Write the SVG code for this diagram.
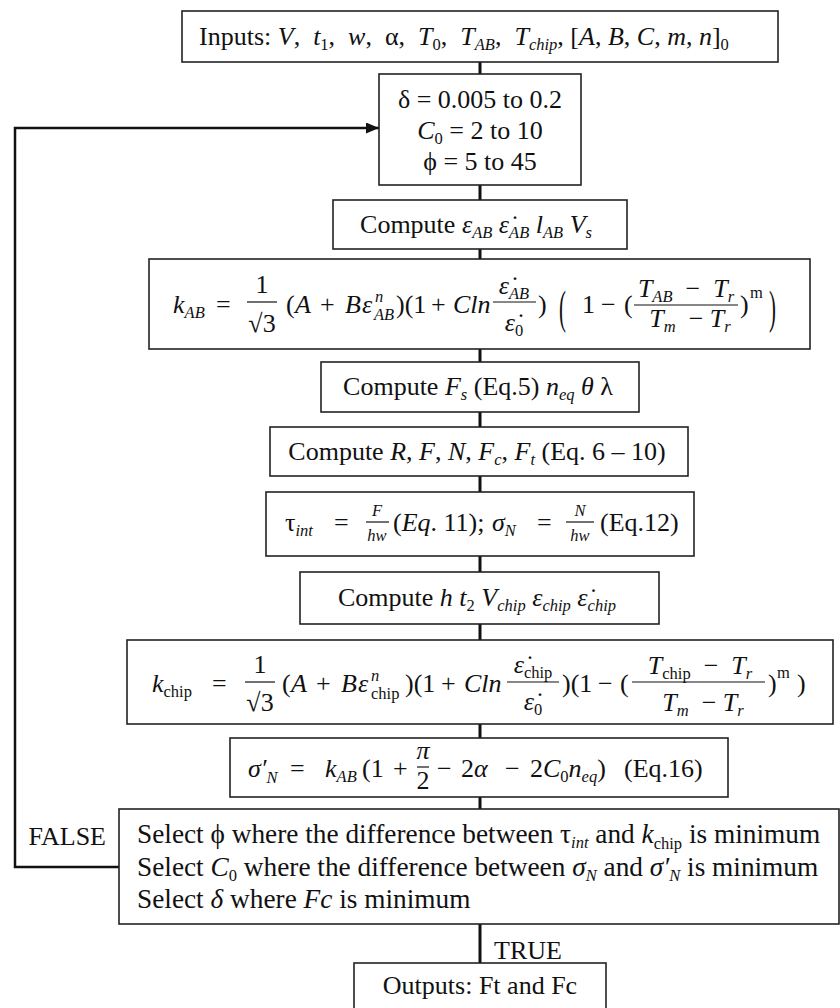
<svg xmlns="http://www.w3.org/2000/svg" width="840" height="1008" viewBox="0 0 840 1008">
<style>
.box{fill:#fff;stroke:#222;stroke-width:1.6}
.t{font-family:"Liberation Serif","Times New Roman","DejaVu Serif",serif;font-size:26px;fill:#111}
.s{font-size:27.3px}
.i{font-style:italic}
.sub{font-size:16.5px}
.m{text-anchor:middle}
.bar{stroke:#111;stroke-width:1.2}
.conn{stroke:#111;stroke-width:3;fill:none}
.loop{stroke:#111;stroke-width:2.5;fill:none}
</style>
<defs>
<marker id="ah" markerWidth="13" markerHeight="11" refX="13" refY="5.5" orient="auto" markerUnits="userSpaceOnUse"><path d="M0,0 L13,5.5 L0,11 z" fill="#111"/></marker>
</defs>
<rect width="840" height="1008" fill="#fff"/>

<g id="connectors">
<line class="conn" x1="480" y1="62" x2="480" y2="74"/>
<line class="conn" x1="480" y1="185" x2="480" y2="200"/>
<line class="conn" x1="480" y1="249" x2="480" y2="259"/>
<line class="conn" x1="480" y1="349" x2="480" y2="362"/>
<line class="conn" x1="480" y1="412" x2="480" y2="427"/>
<line class="conn" x1="480" y1="476" x2="480" y2="492"/>
<line class="conn" x1="480" y1="556" x2="480" y2="572"/>
<line class="conn" x1="480" y1="624" x2="480" y2="640"/>
<line class="conn" x1="480" y1="724" x2="480" y2="738"/>
<line class="conn" x1="480" y1="797" x2="480" y2="809"/>
<line class="conn" x1="480" y1="924" x2="480" y2="963"/>
<path class="loop" d="M119,867 H15 V128 H379" marker-end="url(#ah)"/>
<text class="t" x="106" y="845" text-anchor="end">FALSE</text>
<text class="t" x="494" y="959">TRUE</text>
</g>

<g id="inputs">
<rect class="box" x="182" y="11" width="596" height="51"/>
<text class="t" x="199" y="45" xml:space="preserve">Inputs: <tspan class="i">V</tspan>,  <tspan class="i">t</tspan><tspan class="sub" dy="5">1</tspan><tspan dy="-5">,  </tspan><tspan class="i">w</tspan>,  α,  <tspan class="i">T</tspan><tspan class="sub" dy="5">0</tspan><tspan dy="-5">,  </tspan><tspan class="i">T</tspan><tspan class="sub i" dy="5">AB</tspan><tspan dy="-5">,  </tspan><tspan class="i">T</tspan><tspan class="sub i" dy="5">chip</tspan><tspan dy="-5">, [</tspan><tspan class="i">A</tspan>, <tspan class="i">B</tspan>, <tspan class="i">C</tspan>, <tspan class="i">m</tspan>, <tspan class="i">n</tspan>]<tspan class="sub" dy="5">0</tspan></text>
</g>

<g id="ranges">
<rect class="box" x="379" y="74" width="202" height="111"/>
<text class="t m" x="480" y="108">δ = 0.005 to 0.2</text>
<text class="t m" x="480" y="139"><tspan class="i">C</tspan><tspan class="sub" dy="5">0</tspan><tspan dy="-5"> = 2 to 10</tspan></text>
<text class="t m" x="480" y="170">ϕ = 5 to 45</text>
</g>

<g id="compute-ab">
<rect class="box" x="333" y="200" width="294" height="49"/>
<text class="t m" x="476" y="233" xml:space="preserve">Compute <tspan class="i">ε</tspan><tspan class="sub i" dy="5">AB</tspan><tspan dy="-5"> </tspan><tspan class="i">ε&#x307;</tspan><tspan class="sub i" dy="5">AB</tspan><tspan dy="-5"> </tspan><tspan class="i">l</tspan><tspan class="sub i" dy="5">AB</tspan><tspan dy="-5"> </tspan><tspan class="i">V</tspan><tspan class="sub i" dy="5">s</tspan></text>
</g>

<g id="k-ab">
<rect class="box" x="149" y="259" width="661" height="90"/>
<text class="t i" x="173" y="313">k<tspan class="sub" dy="5">AB</tspan></text>
<text class="t" x="216" y="313">=</text>
<text class="t m" x="262" y="293">1</text>
<line class="bar" x1="247" y1="302" x2="277" y2="302"/>
<text class="t m" x="262" y="332">√3</text>
<text class="t" x="286" y="313">(</text>
<text class="t i" x="295" y="313">A</text>
<text class="t" x="320" y="313">+</text>
<text class="t i" x="345" y="313">B</text>
<text class="t i" x="362" y="313">ε</text>
<text class="t i sub" x="375" y="302">n</text>
<text class="t i sub" x="374" y="320">AB</text>
<text class="t" x="396" y="313">)(1</text>
<text class="t" x="431" y="313">+</text>
<text class="t i" x="453" y="313">Cln</text>
<text class="t i m" x="514" y="294">ε&#x307;<tspan class="sub" dy="5">AB</tspan></text>
<line class="bar" x1="493" y1="302" x2="536" y2="302"/>
<text class="t i m" x="514" y="331">ε&#x307;<tspan class="sub" font-style="normal" dy="5">0</tspan></text>
<text class="t" x="538" y="313">)</text>
<text class="t" font-size="44" transform="translate(559,323) scale(0.8,1.75)">(</text>
<text class="t" x="582" y="313">1</text>
<text class="t" x="601" y="313">−</text>
<text class="t" x="624" y="313">(</text>
<text class="t m" x="686" y="297" xml:space="preserve"><tspan class="i">T</tspan><tspan class="sub i" dy="5">AB</tspan><tspan dy="-5">  −  </tspan><tspan class="i">T</tspan><tspan class="sub i" dy="5">r</tspan></text>
<line class="bar" x1="634" y1="305" x2="738" y2="305"/>
<text class="t m" x="690" y="327" xml:space="preserve"><tspan class="i">T</tspan><tspan class="sub i" dy="5">m</tspan><tspan dy="-5">  − </tspan><tspan class="i">T</tspan><tspan class="sub i" dy="5">r</tspan></text>
<text class="t" x="740" y="313">)</text>
<text class="t sub" x="750" y="298">m</text>
<text class="t" font-size="44" transform="translate(769,323) scale(0.8,1.75)">)</text>
</g>

<g id="compute-fs">
<rect class="box" x="321" y="362" width="318" height="50"/>
<text class="t m" x="478" y="395" xml:space="preserve">Compute <tspan class="i">F</tspan><tspan class="sub i" dy="5">s</tspan><tspan dy="-5"> (Eq.5) </tspan><tspan class="i">n</tspan><tspan class="sub i" dy="5">eq</tspan><tspan dy="-5"> </tspan><tspan class="i">θ</tspan> λ</text>
</g>

<g id="compute-forces">
<rect class="box" x="270" y="427" width="418" height="49"/>
<text class="t m" x="477" y="460" xml:space="preserve">Compute <tspan class="i">R</tspan>, <tspan class="i">F</tspan>, <tspan class="i">N</tspan>, <tspan class="i">F</tspan><tspan class="sub i" dy="5">c</tspan><tspan dy="-5">, </tspan><tspan class="i">F</tspan><tspan class="sub i" dy="5">t</tspan><tspan dy="-5"> (Eq. 6 – 10)</tspan></text>
</g>

<g id="stresses">
<rect class="box" x="266" y="492" width="428" height="64"/>
<text class="t" x="285" y="531">τ<tspan class="sub i" dy="5">int</tspan></text>
<text class="t" x="334" y="531">=</text>
<text class="t i sub m" x="377" y="516">F</text>
<line class="bar" x1="366" y1="522" x2="389" y2="522"/>
<text class="t i sub m" x="377" y="541">hw</text>
<text class="t" x="393" y="531" xml:space="preserve">(<tspan class="i">Eq</tspan>. 11);</text>
<text class="t i" x="492" y="531">σ<tspan class="sub" dy="5">N</tspan></text>
<text class="t" x="537" y="531">=</text>
<text class="t i sub m" x="580" y="516">N</text>
<line class="bar" x1="566" y1="522" x2="594" y2="522"/>
<text class="t i sub m" x="580" y="541">hw</text>
<text class="t" x="600" y="531">(Eq.12)</text>
</g>

<g id="compute-chip">
<rect class="box" x="300" y="572" width="359" height="52"/>
<text class="t m" x="477" y="606" xml:space="preserve">Compute <tspan class="i">h</tspan> <tspan class="i">t</tspan><tspan class="sub" dy="5">2</tspan><tspan dy="-5"> </tspan><tspan class="i">V</tspan><tspan class="sub i" dy="5">chip</tspan><tspan dy="-5"> </tspan><tspan class="i">ε</tspan><tspan class="sub i" dy="5">chip</tspan><tspan dy="-5"> </tspan><tspan class="i">ε&#x307;</tspan><tspan class="sub i" dy="5">chip</tspan></text>
</g>

<g id="k-chip">
<rect class="box" x="127" y="640" width="706" height="84"/>
<text class="t i" x="152" y="692">k<tspan class="sub" font-style="normal" dy="5">chip</tspan></text>
<text class="t" x="212" y="692">=</text>
<text class="t m" x="260" y="673">1</text>
<line class="bar" x1="245" y1="682" x2="275" y2="682"/>
<text class="t m" x="260" y="711">√3</text>
<text class="t" x="282" y="692">(</text>
<text class="t i" x="291" y="692">A</text>
<text class="t" x="316" y="692">+</text>
<text class="t i" x="341" y="692">B</text>
<text class="t i" x="358" y="692">ε</text>
<text class="t i sub" x="371" y="681">n</text>
<text class="t sub" x="371" y="699">chip</text>
<text class="t" x="405" y="692">)(1</text>
<text class="t" x="441" y="692">+</text>
<text class="t i" x="464" y="692">Cln</text>
<text class="t i m" x="533" y="673">ε&#x307;<tspan class="sub" font-style="normal" dy="5">chip</tspan></text>
<line class="bar" x1="507" y1="682" x2="559" y2="682"/>
<text class="t i m" x="533" y="710">ε&#x307;<tspan class="sub" font-style="normal" dy="5">0</tspan></text>
<text class="t" x="562" y="692">)(1</text>
<text class="t" x="598" y="692">−</text>
<text class="t" x="620" y="692">(</text>
<text class="t m" x="700" y="674" xml:space="preserve"><tspan class="i">T</tspan><tspan class="sub" dy="5">chip</tspan><tspan dy="-5">  −  </tspan><tspan class="i">T</tspan><tspan class="sub i" dy="5">r</tspan></text>
<line class="bar" x1="632" y1="682" x2="765" y2="682"/>
<text class="t m" x="703" y="711" xml:space="preserve"><tspan class="i">T</tspan><tspan class="sub i" dy="5">m</tspan><tspan dy="-5">  − </tspan><tspan class="i">T</tspan><tspan class="sub i" dy="5">r</tspan></text>
<text class="t" x="768" y="692">)</text>
<text class="t sub" x="777" y="678">m</text>
<text class="t" x="797" y="692">)</text>
</g>

<g id="sigma-prime">
<rect class="box" x="230" y="738" width="498" height="59"/>
<text class="t i" x="248" y="777">σ′<tspan class="sub" dy="6">N</tspan></text>
<text class="t" x="290" y="777">=</text>
<text class="t i" x="325" y="777">k<tspan class="sub" dy="5">AB</tspan></text>
<text class="t" x="362" y="777">(1</text>
<text class="t" x="393" y="777">+</text>
<text class="t i m" x="423" y="759" font-size="15">π</text>
<line class="bar" x1="417" y1="767" x2="429" y2="767"/>
<text class="t m" x="423" y="789" font-size="15">2</text>
<text class="t" x="437" y="777">−</text>
<text class="t" x="461" y="777">2<tspan class="i">α</tspan></text>
<text class="t" x="505" y="777">−</text>
<text class="t" x="530" y="777">2<tspan class="i">C</tspan><tspan class="sub" dy="5">0</tspan><tspan class="i" dy="-5">n</tspan><tspan class="sub i" dy="5">eq</tspan><tspan dy="-5">)</tspan></text>
<text class="t" x="624" y="777">(Eq.16)</text>
</g>

<g id="select">
<rect class="box" x="119" y="809" width="720" height="115"/>
<text class="t s" x="137" y="843">Select ϕ where the difference between τ<tspan class="sub i" dy="5">int</tspan><tspan dy="-5"> and </tspan><tspan class="i">k</tspan><tspan class="sub" dy="6">chip</tspan><tspan dy="-6"> is minimum</tspan></text>
<text class="t s" x="137" y="876">Select <tspan class="i">C</tspan><tspan class="sub" dy="5">0</tspan><tspan dy="-5"> where the difference between </tspan><tspan class="i">σ</tspan><tspan class="sub i" dy="5">N</tspan><tspan dy="-5"> and </tspan><tspan class="i">σ′</tspan><tspan class="sub i" dy="5">N</tspan><tspan dy="-5"> is minimum</tspan></text>
<text class="t s" x="137" y="908">Select <tspan class="i">δ</tspan> where <tspan class="i">Fc</tspan> is minimum</text>
</g>

<g id="outputs">
<rect class="box" x="354" y="963" width="252" height="60"/>
<text class="t m" x="480" y="994">Outputs: Ft and Fc</text>
</g>
</svg>
